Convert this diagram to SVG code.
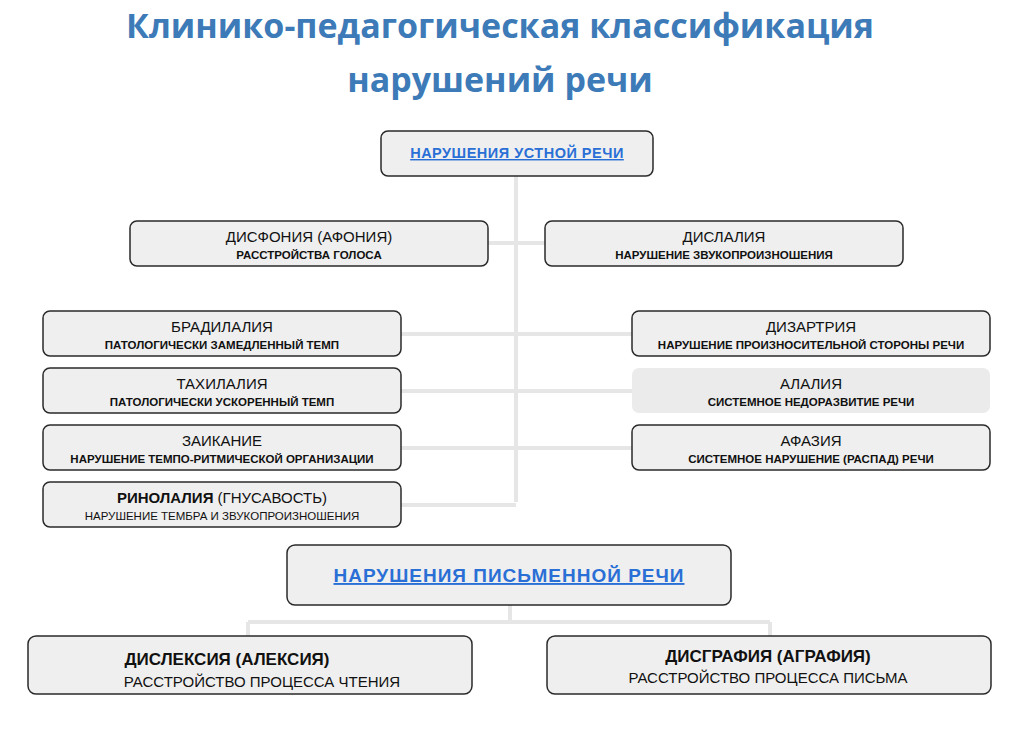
<svg xmlns="http://www.w3.org/2000/svg" width="1010" height="732" viewBox="0 0 1010 732">
<style>
.box{fill:#efefef;stroke:#2a2a2a;stroke-width:1.5}
.t{font-family:"Liberation Sans",Arial,sans-serif;text-anchor:middle;fill:#111}
.h{font-size:15px}
.s{font-size:11.5px;font-weight:bold}
.hd{font-family:"Liberation Sans",Arial,sans-serif;font-weight:bold;fill:#2a6fd6;text-anchor:middle;text-decoration:underline}
.c{stroke:#e6e6e6;stroke-width:4;fill:none}
.title{font-family:"Open Sans","Noto Sans",sans-serif;font-weight:bold;font-size:34px;fill:#3d7ab8;text-anchor:middle}
</style>
<rect width="1010" height="732" fill="#fff"/>
<text class="title" x="500" y="38">Клинико-педагогическая классификация</text>
<text class="title" x="500" y="92">нарушений речи</text>
<g id="connectors">
<path class="c" d="M516 176V502M488 243H545M401 334H516M401 391H516M401 448H516M401 505H516M516 334H632M516 391H632M516 448H632"/>
<path class="c" d="M510 605V622M248 622H770M248 622V636M770 622V636"/>
</g>
<g id="oral"><rect class="box" x="381" y="131" width="272" height="45" rx="7"/><text class="hd" x="517" y="158" font-size="14.5" letter-spacing="0.5">НАРУШЕНИЯ УСТНОЙ РЕЧИ</text></g>
<g id="dysphonia"><rect class="box" x="130" y="221" width="358" height="45" rx="7"/><text class="t h" x="309" y="242">ДИСФОНИЯ (АФОНИЯ)</text><text class="t s" x="309" y="259">РАССТРОЙСТВА ГОЛОСА</text></g>
<g id="dyslalia"><rect class="box" x="545" y="221" width="358" height="45" rx="7"/><text class="t h" x="724" y="242">ДИСЛАЛИЯ</text><text class="t s" x="724" y="259">НАРУШЕНИЕ ЗВУКОПРОИЗНОШЕНИЯ</text></g>
<g id="bradilalia"><rect class="box" x="43" y="311" width="358" height="45" rx="7"/><text class="t h" x="222" y="332">БРАДИЛАЛИЯ</text><text class="t s" x="222" y="349">ПАТОЛОГИЧЕСКИ ЗАМЕДЛЕННЫЙ ТЕМП</text></g>
<g id="tahilalia"><rect class="box" x="43" y="368" width="358" height="45" rx="7"/><text class="t h" x="222" y="389">ТАХИЛАЛИЯ</text><text class="t s" x="222" y="406">ПАТОЛОГИЧЕСКИ УСКОРЕННЫЙ ТЕМП</text></g>
<g id="zaikanie"><rect class="box" x="43" y="425" width="358" height="45" rx="7"/><text class="t h" x="222" y="446">ЗАИКАНИЕ</text><text class="t s" x="222" y="463">НАРУШЕНИЕ ТЕМПО-РИТМИЧЕСКОЙ ОРГАНИЗАЦИИ</text></g>
<g id="rinolalia"><rect class="box" x="43" y="482" width="358" height="45" rx="7"/><text class="t h" x="222" y="503"><tspan font-weight="bold">РИНОЛАЛИЯ</tspan> (ГНУСАВОСТЬ)</text><text class="t" x="222" y="520" font-size="11.5">НАРУШЕНИЕ ТЕМБРА И ЗВУКОПРОИЗНОШЕНИЯ</text></g>
<g id="dizartria"><rect class="box" x="632" y="311" width="358" height="45" rx="7"/><text class="t h" x="811" y="332">ДИЗАРТРИЯ</text><text class="t s" x="811" y="349">НАРУШЕНИЕ ПРОИЗНОСИТЕЛЬНОЙ СТОРОНЫ РЕЧИ</text></g>
<g id="alalia"><rect x="632" y="368" width="358" height="45" rx="7" fill="#ebebeb"/><text class="t h" x="811" y="389">АЛАЛИЯ</text><text class="t s" x="811" y="406">СИСТЕМНОЕ НЕДОРАЗВИТИЕ РЕЧИ</text></g>
<g id="afazia"><rect class="box" x="632" y="425" width="358" height="45" rx="7"/><text class="t h" x="811" y="446">АФАЗИЯ</text><text class="t s" x="811" y="463">СИСТЕМНОЕ НАРУШЕНИЕ (РАСПАД) РЕЧИ</text></g>
<g id="written"><rect class="box" x="287" y="545" width="444" height="60" rx="8"/><text class="hd" x="509" y="582" font-size="19" letter-spacing="1">НАРУШЕНИЯ ПИСЬМЕННОЙ РЕЧИ</text></g>
<g id="dyslexia"><rect class="box" x="28" y="636" width="444" height="58" rx="8"/><text class="t" x="227" y="665" font-size="17" font-weight="bold">ДИСЛЕКСИЯ  (АЛЕКСИЯ)</text><text class="t" x="262" y="687" font-size="15">РАССТРОЙСТВО ПРОЦЕССА ЧТЕНИЯ</text></g>
<g id="dysgraphia"><rect class="box" x="547" y="636" width="444" height="58" rx="8"/><text class="t" x="768" y="662" font-size="17" font-weight="bold">ДИСГРАФИЯ  (АГРАФИЯ)</text><text class="t" x="768" y="683" font-size="15">РАССТРОЙСТВО ПРОЦЕССА ПИСЬМА</text></g>
</svg>
